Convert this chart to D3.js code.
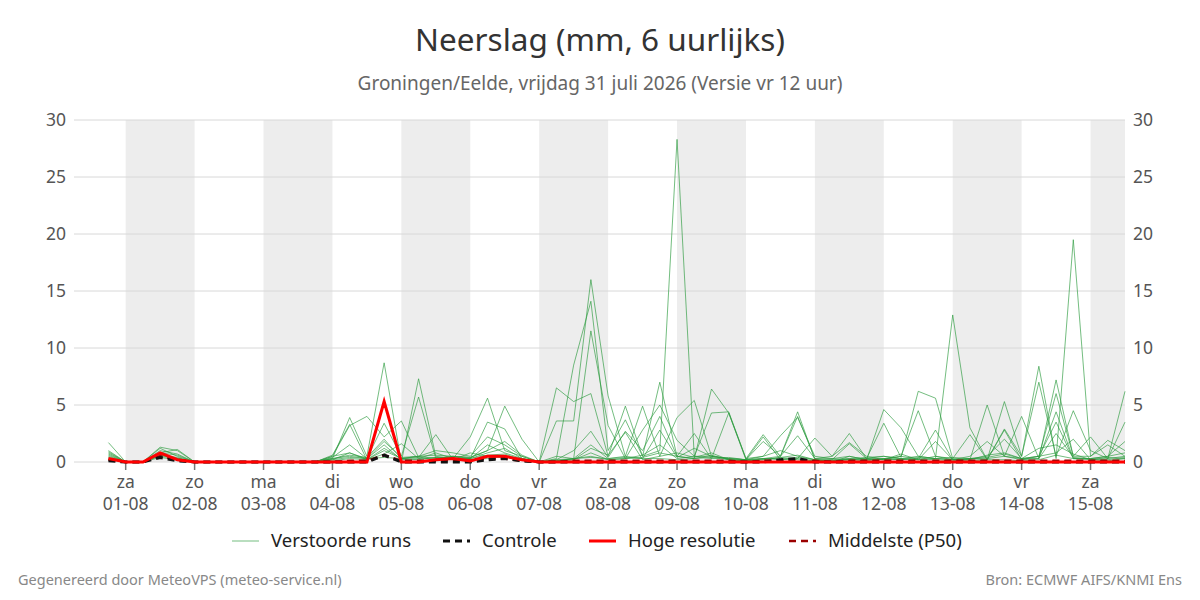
<!DOCTYPE html>
<html><head><meta charset="utf-8">
<script src="https://cdn.jsdelivr.net/npm/d3@7"></script>
<style>body{margin:0;background:#fff;font-family:"Noto Sans",sans-serif;}</style>
</head><body><svg id="c" width="1200" height="600"></svg>
<script>
// 6-hourly totals, starting 31-07 18:00
var members = [
  [1.7,0,0,1.3,1.0,0,0,0,0,0, 0,0,0,0.3,3.9,0.5,8.7,0,7.3,0.5, 0.3,2.2,5.6,1.0,0.5,0,6.5,5.3,6.0,0.5, 4.9,0.5,1.0,28.3,0.5,4.3,4.4,0.3,2.4,0.5, 4.4,0.2,0,0.5,0.2,4.6,3.0,0.5,0.3,12.9, 3.0,0.2,5.3,0.5,8.4,0.3,19.5,0.5,1.9,1.0],
  [1.0,0,0,1.0,0.7,0,0,0,0,0, 0,0,0,0.5,3.2,4.0,2.2,3.6,0.4,2.4, 0.2,0.3,3.5,2.9,0.3,0,3.6,3.6,16.0,5.8, 0.5,4.9,0.5,3.9,5.4,0.5,0.3,0.2,2.2,0.2, 0.3,2.1,0.5,2.5,0.3,3.4,0.4,6.2,5.6,0.3, 0.2,5.0,0.5,4.0,0.3,7.2,0.5,2.2,0.3,6.2],
  [0.8,0,0,0.8,1.1,0,0,0,0,0, 0,0,0,0.4,1.5,0.3,3.4,0.5,5.7,0.3, 0.5,0.4,1.0,4.9,2.0,0,0.3,8.5,14.1,1.0, 3.7,0.5,7.0,0.5,0.3,6.4,4.3,0.3,0.5,2.3, 3.9,0.5,0.3,0.5,0.2,0.3,0.5,4.5,0.5,0.3, 2.4,0.2,2.9,0.5,7.0,0.5,4.5,1.0,0.3,3.5],
  [0.5,0,0,1.2,0.5,0,0,0,0,0, 0,0,0,0.2,0.8,0.3,1.8,0.4,0.5,1.0, 0.8,0.5,2.2,1.5,0.5,0,0.5,0.3,11.5,3.2, 0.3,2.8,5.0,1.9,0.5,0.5,0.3,0.2,1.8,0.5, 4.0,0.3,0.5,1.7,0.5,0.2,0.5,0.3,2.8,0.2, 0.5,1.8,0.5,0.3,0.5,6.0,0.5,0.5,1.5,0.5],
  [0.3,0,0,0.6,0.4,0,0,0,0,0, 0,0,0,0.6,3.3,0.2,1.2,0.3,0.5,0.3, 0.5,0.3,1.5,0.8,0.3,0,0.2,1.0,2.7,0.4, 2.7,1.0,4.0,0.5,2.5,0.3,4.3,0.2,0.3,0.5, 2.3,0.3,0.3,0.2,0.3,0.5,0.3,0.2,0.3,0.4, 0.3,0.5,2.0,0.3,0.3,4.4,0.3,0.3,0.5,1.8],
  [0.9,0,0,0.8,0.6,0,0,0,0,0, 0,0,0,0.3,0.6,0.4,2.0,0.3,0.5,0.6, 0.5,0.4,1.0,1.8,0.6,0,0.2,0.3,1.5,0.3, 0.5,0.3,2.8,0.4,1.2,0.5,0.3,0.2,0.5,1.0, 0.5,0.2,0.2,0.3,0.4,0.5,0.3,0.5,0.3,0.2, 0.3,0.4,0.7,0.3,0.5,3.5,0.3,0.3,0.2,0.4],
  [0.6,0,0,0.7,0.3,0,0,0,0,0, 0,0,0,0.2,0.4,0.3,1.5,0.2,0.3,0.4, 0.4,0.3,0.8,1.2,0.3,0,0.1,0.3,0.5,0.2, 0.3,0.6,1.5,0.3,0.5,0.3,0.4,0.2,0.3,0.3, 0.4,0.2,0.1,0.2,0.3,0.2,0.3,0.2,0.5,0.2, 0.3,0.3,0.5,0.2,0.3,2.5,0.4,0.3,0.5,0.8],
  [0.4,0,0,0.5,0.3,0,0,0,0,0, 0,0,0,0.1,0.3,0.2,1.0,0.3,0.4,0.2, 0.3,0.3,0.6,0.7,0.2,0,0.1,0.2,0.8,0.2, 0.3,0.4,0.8,0.5,0.3,0.6,0.2,0.1,0.2,0.4, 0.6,0.2,0.1,0.3,0.2,0.3,0.2,0.4,0.3,0.2, 0.2,0.6,0.8,0.3,1.2,1.5,0.7,0.2,0.3,0.5],
  [0.2,0,0,0.4,0.2,0,0,0,0,0, 0,0,0,0.5,0.8,0.2,0.7,1.6,0.3,0.8, 0.3,0.2,0.3,0.5,0.2,0,0.1,0.2,1.2,0.6, 2.6,0.2,0.5,0.8,0.4,0.8,0.2,0.1,0.3,0.2, 0.3,0.1,0.2,1.6,0.3,0.2,0.7,0.2,1.8,0.2, 0.1,0.2,2.8,0.2,0.5,0.8,2.0,0.2,0.4,0.3],
  [0.7,0,0,0.6,0.3,0,0,0,0,0, 0,0,0,0.3,0.5,0.3,0.4,0.3,0.2,0.4, 0.2,0.8,0.5,0.4,0.3,0,0.1,0.3,0.4,0.3, 0.4,0.3,0.3,0.2,0.3,0.4,0.2,0.1,0.2,0.4, 0.2,0.1,0.1,0.2,0.1,0.3,0.2,0.3,0.2,0.1, 0.3,0.2,0.2,0.1,0.2,0.6,0.3,0.2,0.1,0.3]
];
var controle = [0.1,0,0,0.4,0.1,0,0,0,0,0, 0,0,0,0,0,0,0.6,0,0,0, 0,0,0.2,0.3,0.1,0,0,0,0,0, 0,0,0,0,0,0,0,0,0,0.2, 0.3,0,0,0,0,0,0,0,0,0, 0,0,0,0,0,0,0,0,0,0];
var hoge = [0.3,0,0,0.8,0.2,0,0,0,0,0, 0,0,0,0,0,0,5.3,0,0,0.2, 0.3,0.1,0.5,0.5,0.2,0,0,0,0,0, 0,0,0,0,0,0,0,0,0,0, 0,0,0,0,0,0,0,0,0,0, 0,0,0,0,0,0,0,0,0,0];
var p50 = [0.2,0,0,0.5,0.2,0,0,0,0,0, 0,0,0,0,0.1,0.1,0.6,0.1,0.1,0.1, 0.2,0.1,0.3,0.3,0.1,0,0,0.1,0.1,0.1, 0.1,0.1,0.1,0.1,0.1,0.1,0.1,0,0.1,0.1, 0.1,0.1,0,0.1,0.1,0.1,0.1,0.1,0.1,0.1, 0.1,0.1,0.1,0.1,0.1,0.1,0.1,0.1,0.1,0.1];
var dayNames = ['za','zo','ma','di','wo','do','vr','za','zo','ma','di','wo','do','vr','za'];
var dayDates = ['01-08','02-08','03-08','04-08','05-08','06-08','07-08','08-08','09-08','10-08','11-08','12-08','13-08','14-08','15-08'];
var yTicks = [0,5,10,15,20,25,30];

var svg = d3.select('#c'),
    margin = {left: 74, right: 75, top: 120, bottom: 138},
    w = 1200 - margin.left - margin.right,
    h = 600 - margin.top - margin.bottom,
    start = new Date(2026, 6, 31, 18),
    hour = 3600 * 1000;

var x = d3.scaleTime()
  .domain([new Date(2026, 6, 31, 6), new Date(2026, 7, 15, 12)])
  .range([margin.left, margin.left + w]);
var y = d3.scaleLinear().domain([0, 30]).range([margin.top + h, margin.top]);
var t = function (i) { return new Date(start.getTime() + i * 6 * hour); };
var day = function (k) { return new Date(2026, 7, 1 + k); };

// shaded alternate days
svg.selectAll('rect.band').data(d3.range(0, 15, 2)).enter().append('rect')
  .attr('x', function (k) { return x(day(k)); })
  .attr('width', function (k) { return Math.min(x(day(k + 1)), margin.left + w) - x(day(k)); })
  .attr('y', margin.top).attr('height', h).attr('fill', '#ededed');

// grid
svg.selectAll('line.grid').data(yTicks).enter().append('line')
  .attr('x1', margin.left).attr('x2', margin.left + w)
  .attr('y1', y).attr('y2', y).attr('stroke', '#d8d8d8');

// y labels both sides
[['end', margin.left - 8], ['start', margin.left + w + 8]].forEach(function (s) {
  svg.selectAll(null).data(yTicks).enter().append('text')
    .attr('x', s[1]).attr('y', function (d) { return y(d) + 6; })
    .attr('text-anchor', s[0]).attr('font-size', 17.5).attr('fill', '#555').text(function (d) { return d; });
});

// x ticks
var days = d3.range(15);
svg.selectAll('line.tk').data(days).enter().append('line')
  .attr('x1', function (k) { return x(day(k)); }).attr('x2', function (k) { return x(day(k)); })
  .attr('y1', margin.top + h).attr('y2', margin.top + h + 8).attr('stroke', '#777').attr('stroke-width', 1.5);
svg.selectAll('text.dn').data(days).enter().append('text')
  .attr('x', function (k) { return x(day(k)); }).attr('y', 488).attr('text-anchor', 'middle')
  .attr('font-size', 17.5).attr('fill', '#555').text(function (k) { return dayNames[k]; });
svg.selectAll('text.dd').data(days).enter().append('text')
  .attr('x', function (k) { return x(day(k)); }).attr('y', 510).attr('text-anchor', 'middle')
  .attr('font-size', 17.5).attr('fill', '#555').text(function (k) { return dayDates[k]; });

var line = d3.line().x(function (d, i) { return x(t(i)); }).y(function (d) { return y(d); });

svg.selectAll('path.m').data(members).enter().append('path')
  .attr('d', line).attr('fill', 'none').attr('stroke', '#2a9a3c')
  .attr('stroke-opacity', 0.65).attr('stroke-width', 1);
svg.append('path').datum(p50).attr('d', line).attr('fill', 'none')
  .attr('stroke', '#9b0000').attr('stroke-width', 2.5).attr('stroke-dasharray', '7,5');
svg.append('path').datum(controle).attr('d', line).attr('fill', 'none')
  .attr('stroke', '#111').attr('stroke-width', 3).attr('stroke-dasharray', '7,5');
svg.append('path').datum(hoge).attr('d', line).attr('fill', 'none')
  .attr('stroke', '#f00').attr('stroke-width', 3);

// titles
svg.append('text').attr('x', 600).attr('y', 51).attr('text-anchor', 'middle')
  .attr('font-size', 31.5).attr('fill', '#333').text('Neerslag (mm, 6 uurlijks)');
svg.append('text').attr('x', 600).attr('y', 90).attr('text-anchor', 'middle')
  .attr('font-size', 19).attr('fill', '#666').text('Groningen/Eelde, vrijdag 31 juli 2026 (Versie vr 12 uur)');

// legend
var legend = [
  {label: 'Verstoorde runs', x: 232, color: '#2a9a3c', w: 1, dash: null, op: 0.65},
  {label: 'Controle', x: 443, color: '#111', w: 3, dash: '7,5', op: 1},
  {label: 'Hoge resolutie', x: 589, color: '#f00', w: 3, dash: null, op: 1},
  {label: 'Middelste (P50)', x: 789, color: '#9b0000', w: 2.5, dash: '7,5', op: 1}
];
var lg = svg.selectAll('g.lg').data(legend).enter().append('g');
lg.append('line').attr('x1', function (d) { return d.x; }).attr('x2', function (d) { return d.x + 27; })
  .attr('y1', 541).attr('y2', 541).attr('stroke', function (d) { return d.color; })
  .attr('stroke-width', function (d) { return d.w; }).attr('stroke-dasharray', function (d) { return d.dash; })
  .attr('stroke-opacity', function (d) { return d.op; });
lg.append('text').attr('x', function (d) { return d.x + 39; }).attr('y', 547)
  .attr('font-size', 18.5).attr('fill', '#222').text(function (d) { return d.label; });

svg.append('text').attr('x', 18).attr('y', 585).attr('font-size', 14.5).attr('fill', '#888')
  .text('Gegenereerd door MeteoVPS (meteo-service.nl)');
svg.append('text').attr('x', 1182).attr('y', 585).attr('text-anchor', 'end').attr('font-size', 14.5).attr('fill', '#888')
  .text('Bron: ECMWF AIFS/KNMI Ens');
</script></body></html>
